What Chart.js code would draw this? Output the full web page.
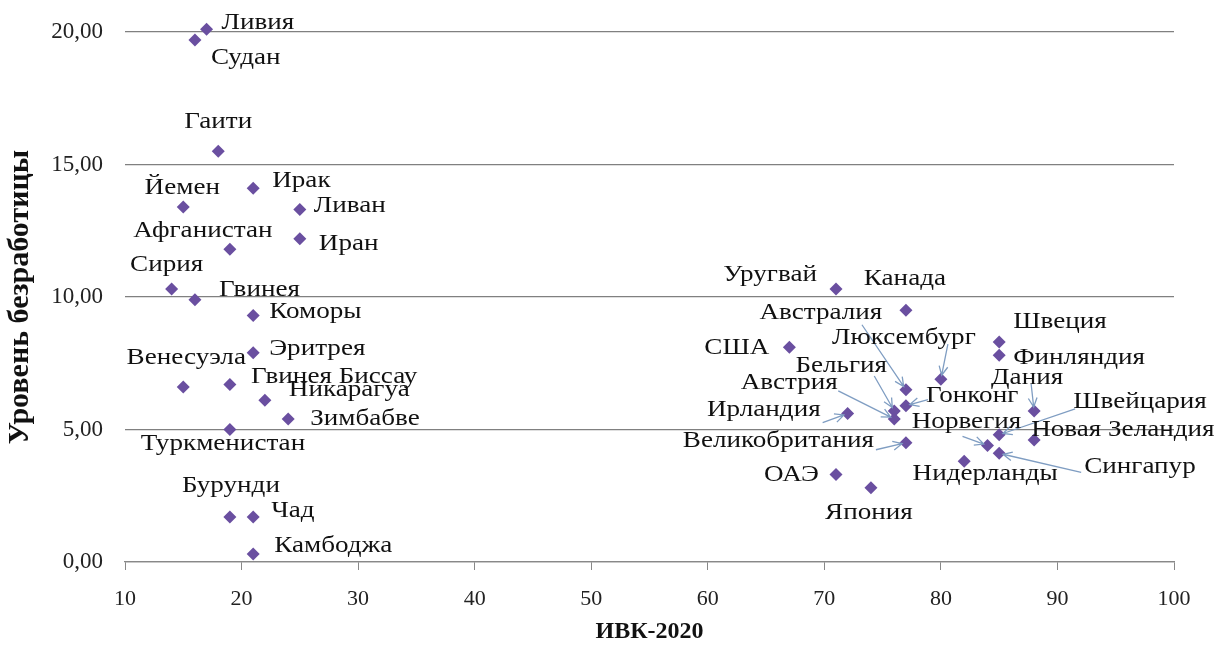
<!DOCTYPE html>
<html>
<head>
<meta charset="utf-8">
<script src="https://cdn.jsdelivr.net/npm/chart.js@4/dist/chart.umd.min.js"></script>
<style>
  html, body { margin: 0; padding: 0; background: #fff; }
  #wrap { width: 1219px; height: 646px; position: relative; }
</style>
</head>
<body>
<div id="wrap"><canvas id="chart"></canvas></div>
<script>
// Data: country, IVK-2020 index, unemployment rate (%)
var countries = [
    'Ливия', 'Судан', 'Гаити', 'Йемен', 'Ирак', 'Ливан', 'Афганистан', 'Иран',
    'Сирия', 'Гвинея', 'Коморы', 'Эритрея', 'Венесуэла', 'Гвинея Биссау',
    'Никарагуа', 'Зимбабве', 'Туркменистан', 'Бурунди', 'Чад', 'Камбоджа',
    'Уругвай', 'Канада', 'США', 'Австралия', 'Люксембург', 'Бельгия', 'Австрия',
    'Ирландия', 'Гонконг', 'Норвегия', 'Великобритания', 'ОАЭ', 'Япония',
    'Нидерланды', 'Швеция', 'Финляндия', 'Дания', 'Швейцария', 'Новая Зеландия',
    'Сингапур'
];
var ivk = [
    17, 16, 18, 15, 21, 25, 19, 25,
    14, 16, 21, 21, 15, 19,
    22, 24, 19, 19, 21, 21,
    71, 77, 67, 77, 80, 76, 76,
    72, 77, 84, 77, 71, 74,
    82, 85, 85, 88, 85, 88,
    85
];
var unemployment = [
    20.1, 19.7, 15.5, 13.4, 14.1, 13.3, 11.8, 12.2,
    10.3, 9.9, 9.3, 7.9, 6.6, 6.7,
    6.1, 5.4, 5.0, 1.7, 1.7, 0.3,
    10.3, 9.5, 8.1, 6.5, 6.9, 5.7, 5.4,
    5.6, 5.9, 4.4, 4.5, 3.3, 2.8,
    3.8, 8.3, 7.8, 5.7, 4.8, 4.6,
    4.1
];
var xRange = [10, 100];
var yRange = [0, 20];

// Label placement relative to the point: [dx, dy, textAlign]
var labelPlace = {
    'Ливия': [15, -7, 'left'], 'Судан': [16, 18, 'left'], 'Гаити': [0, -30, 'center'],
    'Йемен': [-1, -19, 'center'], 'Ирак': [19, -8, 'left'], 'Ливан': [14, -4, 'left'],
    'Афганистан': [-27, -19, 'center'], 'Иран': [19, 5, 'left'], 'Сирия': [-5, -24, 'center'],
    'Гвинея': [24, -10, 'left'], 'Коморы': [16, -4, 'left'], 'Эритрея': [16, -4, 'left'],
    'Венесуэла': [3, -29, 'center'], 'Гвинея Биссау': [21, -8, 'left'],
    'Никарагуа': [24, -11, 'left'], 'Зимбабве': [22, 0, 'left'],
    'Туркменистан': [-7, 14, 'center'], 'Бурунди': [1, -31, 'center'],
    'Чад': [18, -6, 'left'], 'Камбоджа': [21, -8, 'left'],
    'Уругвай': [-19, -14, 'right'], 'Канада': [-1, -32, 'center'],
    'США': [-20, 0, 'right'], 'Австралия': [-85, -77, 'center'],
    'Люксембург': [-37, -41, 'center'], 'Бельгия': [-53, -45, 'center'],
    'Австрия': [-105, -36, 'center'], 'Ирландия': [-27, -4, 'right'],
    'Гонконг': [20, -10, 'left'], 'Норвегия': [-21, -24, 'center'],
    'Великобритания': [-32, -2, 'right'], 'ОАЭ': [-17, 0, 'right'],
    'Япония': [-2, 25, 'center'], 'Нидерланды': [21, 12, 'center'],
    'Швеция': [14, -20, 'left'], 'Финляндия': [14, 2, 'left'],
    'Дания': [-7, -33, 'center'], 'Швейцария': [74, -33, 'left'],
    'Новая Зеландия': [-3, -10, 'left'], 'Сингапур': [85, 13, 'left']
};
// Leader lines: start point relative to the data point
var leaders = {
    'Австралия': [-44, -65], 'Люксембург': [7, -35], 'Бельгия': [-20, -35],
    'Австрия': [-56, -28], 'Ирландия': [-25, 9], 'Гонконг': [22, -6],
    'Норвегия': [-25, -9], 'Великобритания': [-30, 7], 'Дания': [-3, -27],
    'Швейцария': [76, -26], 'Сингапур': [82, 19]
};

var FONT = '"Liberation Serif", "Times New Roman", serif';

function drawArrow(ctx, x0, y0, x1, y1) {
    var a = Math.atan2(y1 - y0, x1 - x0);
    var ex = x1 - Math.cos(a) * 4, ey = y1 - Math.sin(a) * 4;
    ctx.beginPath();
    ctx.moveTo(x0, y0);
    ctx.lineTo(ex, ey);
    ctx.moveTo(ex - Math.cos(a - 0.45) * 10, ey - Math.sin(a - 0.45) * 10);
    ctx.lineTo(ex, ey);
    ctx.lineTo(ex - Math.cos(a + 0.45) * 10, ey - Math.sin(a + 0.45) * 10);
    ctx.stroke();
}

var pointLabels = {
    id: 'pointLabels',
    afterDatasetsDraw: function (chart) {
        var ctx = chart.ctx;
        var meta = chart.getDatasetMeta(0);
        ctx.save();
        ctx.strokeStyle = '#7f9dc2';
        ctx.lineWidth = 1.3;
        meta.data.forEach(function (pt, i) {
            var l = leaders[countries[i]];
            if (l) drawArrow(ctx, pt.x + l[0], pt.y + l[1], pt.x, pt.y);
        });
        ctx.font = '24px ' + FONT;
        ctx.fillStyle = '#111';
        ctx.textBaseline = 'middle';
        meta.data.forEach(function (pt, i) {
            var p = labelPlace[countries[i]];
            // the source labels are set a little wide
            ctx.save();
            ctx.translate(pt.x + p[0], pt.y + p[1]);
            ctx.scale(1.13, 1);
            ctx.textAlign = p[2];
            ctx.fillText(countries[i], 0, 0);
            ctx.restore();
        });
        ctx.restore();
    }
};

new Chart(document.getElementById('chart'), {
    type: 'scatter',
    data: {
        datasets: [{
            data: ivk.map(function (v, i) { return { x: v, y: unemployment[i] }; }),
            pointStyle: 'rectRot',
            pointRadius: 6.5,
            pointHoverRadius: 6.5,
            backgroundColor: '#6a4fa0',
            borderColor: '#6a4fa0',
            borderWidth: 0,
            clip: false
        }]
    },
    plugins: [pointLabels],
    options: {
        responsive: true,
        maintainAspectRatio: false,
        animation: false,
        layout: { padding: { top: 32, right: 45, left: 0, bottom: 0 } },
        plugins: { legend: { display: false }, tooltip: { enabled: false } },
        scales: {
            x: {
                type: 'linear',
                min: xRange[0], max: xRange[1],
                ticks: { stepSize: 10, padding: 16, color: '#222', font: { family: FONT, size: 22 } },
                grid: { drawOnChartArea: false, tickLength: 8, color: '#888' },
                border: { color: '#888', width: 1.3 },
                title: {
                    display: true, text: 'ИВК-2020', color: '#111',
                    font: { family: FONT, size: 24, weight: 'bold' },
                    padding: { top: 0, bottom: 0 }
                },
                afterFit: function (scale) { scale.height = 84; }
            },
            y: {
                min: yRange[0], max: yRange[1],
                ticks: {
                    stepSize: 5, padding: 22, color: '#222', font: { family: FONT, size: 23 },
                    callback: function (v) { return v.toFixed(2).replace('.', ','); }
                },
                grid: { drawTicks: false, color: '#808080', lineWidth: 1.3 },
                border: { display: false },
                title: {
                    display: true, text: 'Уровень безработицы', color: '#111',
                    font: { family: FONT, size: 30, weight: 'bold' },
                    padding: { top: 2, bottom: 0 }
                },
                afterFit: function (scale) {
                    scale.width = 125;
                    // keep the plot top fixed by the layout padding only
                    scale.paddingTop = 0;
                    scale.paddingBottom = 0;
                }
            }
        }
    }
});
</script>
</body>
</html>
